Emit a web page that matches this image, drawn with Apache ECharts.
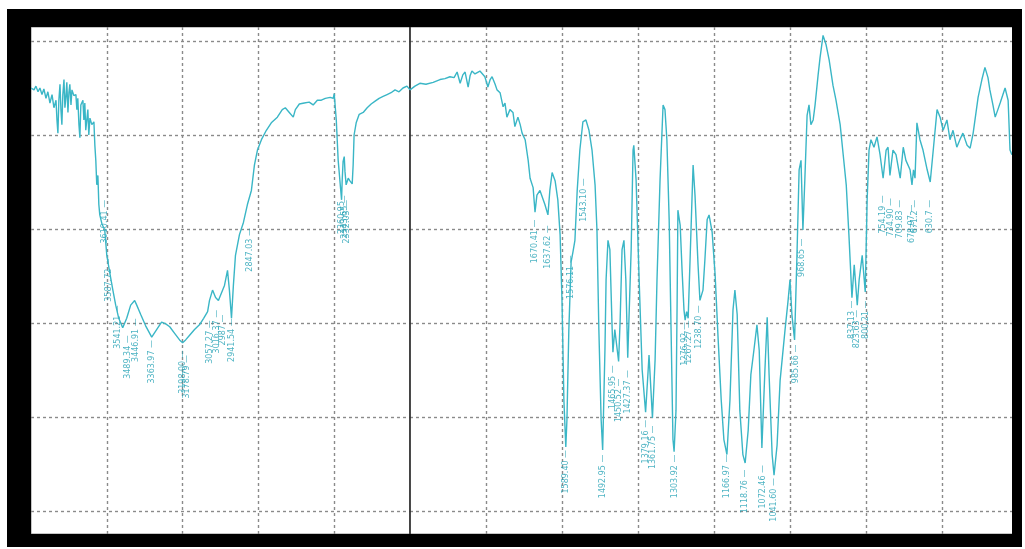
<!DOCTYPE html>
<html><head><meta charset="utf-8">
<script src="https://cdn.jsdelivr.net/npm/echarts@6/dist/echarts.min.js"></script>
<style>html,body{margin:0;padding:0;background:#fff}#c{width:1025px;height:549px}</style>
</head><body><div id="c"></div>
<script>
// IR spectrum, 4000-2000 cm-1 (compressed half of the axis): [wavenumber, transmittance units]
const spectrumHigh = [[4000,45.0],[3984,44.8],[3974,45.2],[3963,44.6],[3953,45.0],[3942,44.3],[3932,44.9],[3921,43.9],[3911,44.6],[3900,43.4],[3889,44.3],[3879,42.9],[3868,43.7],[3863,41.6],[3858,40.2],[3853,43.7],[3847,45.4],[3842,42.7],[3837,41.1],[3832,44.3],[3826,45.9],[3821,42.9],[3816,44.0],[3811,45.6],[3805,42.4],[3800,44.5],[3795,45.4],[3789,43.2],[3784,44.8],[3774,44.2],[3763,44.3],[3758,42.7],[3753,43.9],[3747,41.1],[3742,39.7],[3737,43.2],[3726,43.7],[3721,41.6],[3716,43.4],[3711,40.5],[3700,42.7],[3695,40.0],[3689,41.8],[3679,41.1],[3668,41.4],[3663,38.9],[3658,37.3],[3653,34.7],[3647,35.7],[3642,32.6],[3637,31.5],[3625,30.5],[3611,29.9],[3600,27.2],[3584,25.3],[3568,23.5],[3553,21.9],[3537,20.5],[3516,19.5],[3495,20.5],[3474,21.9],[3453,22.4],[3442,21.9],[3421,20.9],[3395,19.7],[3363,18.5],[3337,19.3],[3311,20.1],[3289,19.9],[3268,19.6],[3242,18.9],[3216,18.2],[3200,17.9],[3184,18.2],[3163,18.7],[3137,19.3],[3111,19.8],[3089,20.5],[3068,21.2],[3058,22.4],[3042,23.5],[3026,22.7],[3011,22.4],[2995,23.2],[2979,24.0],[2963,25.6],[2953,23.5],[2942,20.5],[2932,24.0],[2921,27.2],[2900,29.4],[2879,30.7],[2858,32.6],[2837,34.1],[2821,36.8],[2805,38.4],[2784,39.5],[2758,40.5],[2732,41.3],[2700,41.9],[2674,42.7],[2658,42.9],[2637,42.4],[2616,41.9],[2605,42.7],[2584,43.3],[2558,43.4],[2532,43.5],[2511,43.2],[2489,43.7],[2468,43.7],[2447,43.9],[2421,44.0],[2405,43.9],[2400,44.4],[2389,41.6],[2379,37.3],[2368,34.7],[2361,33.1],[2358,35.1],[2353,37.2],[2347,37.7],[2343,36.1],[2337,34.7],[2332,34.5],[2326,35.4],[2316,35.1],[2305,34.8],[2300,36.8],[2295,40.0],[2284,41.3],[2268,42.2],[2247,42.4],[2226,42.9],[2205,43.3],[2184,43.6],[2163,43.9],[2142,44.1],[2121,44.3],[2100,44.5],[2079,44.8],[2058,44.6],[2037,45.0],[2016,45.2],[2000,44.8]];

// IR spectrum, 2000-400 cm-1 (expanded half)
const spectrumLow = [[2000,44.8],[1987,45.2],[1974,45.5],[1958,45.4],[1939,45.6],[1921,45.9],[1908,46.0],[1895,46.2],[1884,46.1],[1876,46.7],[1868,45.5],[1861,46.4],[1855,46.7],[1847,45.1],[1842,46.3],[1837,46.8],[1829,46.5],[1824,46.4],[1816,46.8],[1811,46.9],[1803,46.2],[1795,45.1],[1789,45.9],[1784,46.2],[1776,45.4],[1771,44.8],[1763,44.5],[1755,43.0],[1750,43.4],[1745,41.9],[1737,42.7],[1729,42.4],[1724,40.9],[1716,41.9],[1710,41.1],[1705,40.2],[1697,39.5],[1689,37.3],[1684,35.4],[1676,34.4],[1671,31.8],[1666,33.6],[1658,34.1],[1645,32.6],[1637,31.5],[1632,34.1],[1626,36.0],[1618,35.1],[1611,33.1],[1605,29.4],[1600,22.4],[1595,11.8],[1590,6.8],[1587,9.7],[1582,19.3],[1576,26.5],[1571,27.6],[1566,28.8],[1560,34.1],[1553,38.4],[1545,41.4],[1537,41.6],[1529,40.5],[1521,38.4],[1513,34.7],[1508,29.9],[1503,19.3],[1497,9.7],[1493,6.5],[1487,17.1],[1484,24.6],[1479,28.8],[1474,27.8],[1468,19.3],[1466,16.9],[1461,19.3],[1451,15.9],[1447,20.3],[1442,27.8],[1437,28.8],[1432,24.6],[1427,16.3],[1418,27.8],[1413,38.4],[1411,38.9],[1405,35.2],[1397,24.6],[1389,15.0],[1380,10.5],[1374,14.5],[1371,16.6],[1366,12.9],[1362,9.9],[1355,16.1],[1350,24.6],[1342,35.2],[1334,43.2],[1329,42.7],[1324,39.5],[1318,31.0],[1313,19.3],[1308,7.6],[1305,6.3],[1300,10.7],[1297,22.4],[1295,32.0],[1289,30.4],[1284,25.6],[1279,21.4],[1276,20.3],[1272,21.2],[1268,20.5],[1263,26.7],[1258,33.1],[1255,36.8],[1250,33.6],[1242,26.2],[1237,22.4],[1229,23.5],[1224,26.7],[1218,31.0],[1213,31.5],[1205,29.7],[1197,25.1],[1189,18.2],[1181,11.8],[1174,7.6],[1166,6.0],[1158,11.8],[1150,21.4],[1145,23.5],[1139,20.9],[1132,10.7],[1124,6.0],[1118,5.1],[1110,8.6],[1103,14.5],[1095,17.1],[1087,19.8],[1081,17.1],[1074,6.7],[1066,15.0],[1060,20.6],[1055,14.5],[1047,6.0],[1042,3.8],[1034,7.0],[1026,13.9],[1013,19.3],[1005,22.4],[1000,24.6],[995,20.9],[988,18.2],[982,26.7],[976,36.3],[971,37.3],[966,29.9],[961,35.2],[955,42.1],[950,43.2],[945,41.1],[939,41.6],[934,43.2],[926,46.4],[921,48.2],[913,50.6],[905,49.6],[897,48.0],[887,45.3],[879,43.7],[868,41.1],[860,37.9],[852,34.7],[845,29.4],[837,22.7],[831,26.2],[823,21.9],[818,24.6],[810,27.2],[802,23.3],[797,33.1],[792,38.4],[787,39.5],[779,38.7],[771,39.8],[763,37.9],[755,35.4],[747,38.4],[742,38.7],[737,35.7],[729,38.4],[721,37.9],[710,35.4],[702,38.7],[695,37.3],[684,36.3],[679,34.7],[675,36.3],[671,35.4],[666,41.3],[658,39.5],[650,38.4],[639,36.3],[631,35.0],[623,38.4],[613,42.7],[605,41.9],[597,40.5],[587,41.6],[579,39.5],[571,40.5],[561,38.7],[553,39.5],[545,40.2],[534,38.9],[526,38.6],[518,40.2],[505,44.0],[495,45.9],[487,47.2],[479,46.1],[474,44.8],[466,43.2],[460,41.9],[453,42.7],[447,43.4],[434,45.0],[426,43.7],[421,38.4],[416,37.9]];

// Peak annotations: text as printed, wavenumber, and the level where the hanging label starts
const peakTexts = ['3610.41','3587.72','3541.21','3489.34','3446.91','3363.97','3198.00','3178.79','3057.27','3016.37','2987','2941.54','2847.03','2360.95','2343.65','2332.03',
  '1670.41','1637.62','1589.40','1576.11','1543.10','1492.95','1465.95','1450.52','1427.37','1379.16','1361.75','1303.92','1276.92','1267.27','1238.70','1166.97','1118.76','1072.46','1041.60','985.66','968.65','837.13','823.63','800.21','754.19','734.90','709.83','678.97','671.2','630.7'];
const peakWavenumbers = [3610.41,3587.72,3541.21,3489.34,3446.91,3363.97,3198.00,3178.79,3057.27,3016.37,2987,2941.54,2847.03,2360.95,2343.65,2332.03,
  1670.41,1637.62,1589.40,1576.11,1543.10,1492.95,1465.95,1450.52,1427.37,1379.16,1361.75,1303.92,1276.92,1267.27,1238.70,1166.97,1118.76,1072.46,1041.60,985.66,968.65,837.13,823.63,800.21,754.19,734.90,709.83,678.97,671.2,630.7];
const peakLabelLevels = [33.1,26.9,21.9,18.7,20.5,18.2,17.1,16.6,20.3,21.4,20.9,20.5,30.1,34.1,33.6,33.1,
  31.0,30.4,6.5,27.2,35.4,6.0,15.5,14.1,15.0,9.7,9.1,6.0,20.1,20.3,21.9,6.0,4.4,4.9,3.5,17.7,29.0,22.4,21.4,22.4,33.6,33.3,33.1,32.6,33.1,33.1];

const lineColor = '#3ab6c6';
const labelColor = '#22a0b4';

const highLabels = [], lowLabels = [];
peakTexts.forEach((t, i) => {
  const d = { value: [peakWavenumbers[i], peakLabelLevels[i]], name: t };
  (peakWavenumbers[i] >= 2000 ? highLabels : lowLabels).push(d);
});

const splitStyle = { show: true, showMinLine: false, showMaxLine: false, lineStyle: { color: '#8a8a8a', type: [3, 3], width: 1.4 } };
const yCommon = {
  type: 'value', min: -2.45, max: 51.49, splitNumber: 5,
  axisLabel: { show: false }, axisTick: { show: false }, splitLine: splitStyle
};
const labelStyle = {
  show: true, position: 'inside', rotate: 90, align: 'right', verticalAlign: 'middle',
  formatter: p => p.name + ' \u2014', fontSize: 8, color: labelColor, fontFamily: 'DejaVu Sans'
};

const chart = echarts.init(document.getElementById('c'), null, { renderer: 'canvas' });
chart.setOption({
  animation: false,
  backgroundColor: '#fff',
  grid: [
    { left: 31, top: 27, width: 379, height: 507, show: true, backgroundColor: '#fff', borderColor: '#8c8c8c', borderWidth: 1 },
    { left: 410, top: 27, width: 608, height: 507, show: true, backgroundColor: '#fff', borderColor: '#8c8c8c', borderWidth: 1 }
  ],
  xAxis: [
    { type: 'value', gridIndex: 0, min: 2000, max: 4000, interval: 400, inverse: true,
      axisLine: { show: false }, axisLabel: { show: false }, axisTick: { show: false }, splitLine: splitStyle },
    { type: 'value', gridIndex: 1, min: 400, max: 2000, interval: 200, inverse: true,
      axisLine: { show: false }, axisLabel: { show: false }, axisTick: { show: false }, splitLine: splitStyle }
  ],
  yAxis: [
    Object.assign({ gridIndex: 0, axisLine: { show: false } }, yCommon),
    Object.assign({ gridIndex: 1, axisLine: { show: true, onZero: false, lineStyle: { color: '#222', width: 1.5 } } }, yCommon)
  ],
  series: [
    { type: 'line', xAxisIndex: 0, yAxisIndex: 0, data: spectrumHigh, symbol: 'none', silent: true,
      lineStyle: { color: lineColor, width: 1.4 } },
    { type: 'line', xAxisIndex: 1, yAxisIndex: 1, data: spectrumLow, symbol: 'none', silent: true,
      lineStyle: { color: lineColor, width: 1.4 } },
    { type: 'scatter', xAxisIndex: 0, yAxisIndex: 0, data: highLabels, symbolSize: 1, silent: true,
      itemStyle: { color: 'rgba(0,0,0,0)' }, label: labelStyle },
    { type: 'scatter', xAxisIndex: 1, yAxisIndex: 1, data: lowLabels, symbolSize: 1, silent: true,
      itemStyle: { color: 'rgba(0,0,0,0)' }, label: labelStyle }
  ],
  graphic: [
    { type: 'rect', z: 100, shape: { x: 7, y: 9, width: 1015, height: 18 }, style: { fill: '#000' } },
    { type: 'rect', z: 100, shape: { x: 7, y: 534, width: 1015, height: 13 }, style: { fill: '#000' } },
    { type: 'rect', z: 100, shape: { x: 7, y: 9, width: 24, height: 538 }, style: { fill: '#000' } },
    { type: 'rect', z: 100, shape: { x: 1012, y: 9, width: 10, height: 538 }, style: { fill: '#000' } }
  ]
});
</script>
</body></html>
